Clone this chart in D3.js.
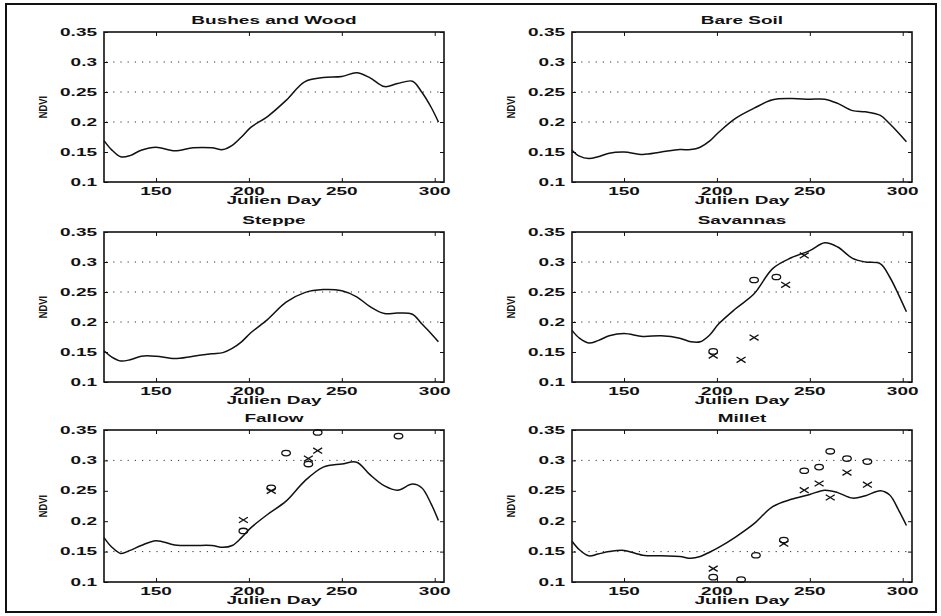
<!DOCTYPE html>
<html lang="en">
<head>
<meta charset="UTF-8">
<title>NDVI profiles</title>
<script src="https://cdn.jsdelivr.net/npm/d3@7"></script>
<style>
    body { margin: 0; background: #fff; }
    .frame { fill: none; stroke: #111; stroke-width: 2; }
    .box { fill: none; stroke: #111; stroke-width: 1.6; }
    .curve { fill: none; stroke: #111; stroke-width: 1.5; }
    .grid { stroke: #333; stroke-width: 1; stroke-dasharray: 1.2, 6; }
    .tick line { stroke: #111; }
    .lbl { font-family: "Liberation Sans", Arial, sans-serif; font-weight: bold; font-size: 10px; fill: #111; }
    .ylbl { font-size: 11px; }
    .mark { fill: none; stroke: #111; stroke-width: 1.3; }
</style>
</head>
<body>
<svg id="chart"></svg>
<script>
    var width = 941;
    var height = 616;

    // Julien day of every curve sample
    var days = [122, 126, 131, 136, 142, 150, 160, 170, 180, 186, 191, 196, 201,
                210, 220, 230, 240, 250, 258, 265, 273, 280, 288, 293, 298, 302];

    // NDVI curves
    var bushesNdvi = [0.169, 0.154, 0.142, 0.144, 0.153, 0.158, 0.152, 0.157, 0.157, 0.154, 0.161, 0.175, 0.191,
                      0.209, 0.236, 0.267, 0.274, 0.276, 0.282, 0.274, 0.259, 0.264, 0.268, 0.250, 0.225, 0.200];
    var bareSoilNdvi = [0.153, 0.143, 0.139, 0.142, 0.148, 0.150, 0.146, 0.150, 0.154, 0.154, 0.158, 0.168, 0.183,
                        0.206, 0.223, 0.237, 0.239, 0.238, 0.238, 0.231, 0.219, 0.217, 0.211, 0.197, 0.181, 0.167];
    var steppeNdvi = [0.152, 0.142, 0.135, 0.137, 0.143, 0.143, 0.139, 0.143, 0.147, 0.149, 0.156, 0.167, 0.182,
                      0.204, 0.233, 0.249, 0.254, 0.252, 0.242, 0.226, 0.214, 0.215, 0.213, 0.197, 0.181, 0.167];
    var savannaNdvi = [0.186, 0.173, 0.165, 0.169, 0.177, 0.181, 0.176, 0.177, 0.173, 0.167, 0.167, 0.178, 0.197,
                       0.222, 0.247, 0.289, 0.307, 0.319, 0.332, 0.325, 0.306, 0.300, 0.297, 0.275, 0.244, 0.217];
    var fallowNdvi = [0.173, 0.158, 0.147, 0.152, 0.160, 0.168, 0.161, 0.160, 0.160, 0.157, 0.160, 0.173, 0.189,
                      0.211, 0.233, 0.266, 0.289, 0.294, 0.297, 0.277, 0.258, 0.251, 0.261, 0.255, 0.229, 0.201];
    var milletNdvi = [0.167, 0.153, 0.143, 0.146, 0.150, 0.152, 0.144, 0.143, 0.142, 0.139, 0.142, 0.149, 0.157,
                      0.174, 0.196, 0.224, 0.236, 0.244, 0.251, 0.247, 0.238, 0.242, 0.250, 0.243, 0.217, 0.193];

    // field observations ("o" and "x" marks)
    var savannaODays = [198, 220, 232];
    var savannaOValues = [0.151, 0.270, 0.275];
    var savannaXDays = [198, 213, 220, 237, 247];
    var savannaXValues = [0.144, 0.137, 0.174, 0.262, 0.311];

    var fallowODays = [197, 212, 220, 232, 237, 280.5];
    var fallowOValues = [0.184, 0.255, 0.312, 0.294, 0.346, 0.340];
    var fallowXDays = [197, 212, 232, 237];
    var fallowXValues = [0.202, 0.250, 0.303, 0.316];

    var milletODays = [198, 213, 221, 236, 247, 255, 261, 270, 281];
    var milletOValues = [0.108, 0.104, 0.144, 0.169, 0.283, 0.289, 0.315, 0.303, 0.298];
    var milletXDays = [198, 236, 247, 255, 261, 270, 281];
    var milletXValues = [0.122, 0.163, 0.251, 0.262, 0.239, 0.280, 0.260];

    // axes
    var xTicks = [150, 200, 250, 300];
    var yTicks = [0.1, 0.15, 0.2, 0.25, 0.3, 0.35];
    var yTickLabels = ["0.1", "0.15", "0.2", "0.25", "0.3", "0.35"];
    var xLabel = "Julien Day";
    var yLabel = "NDVI";

    var panels = [
        {title: "Bushes and Wood", ndvi: bushesNdvi, grid: [0.2, 0.25, 0.3], col: 0, row: 0},
        {title: "Bare Soil", ndvi: bareSoilNdvi, grid: [0.2, 0.25, 0.3], col: 1, row: 0},
        {title: "Steppe", ndvi: steppeNdvi, grid: [0.2, 0.25, 0.3], col: 0, row: 1},
        {title: "Savannas", ndvi: savannaNdvi, grid: [0.2, 0.25, 0.3], col: 1, row: 1,
            oDays: savannaODays, oValues: savannaOValues, xDays: savannaXDays, xValues: savannaXValues},
        {title: "Fallow", ndvi: fallowNdvi, grid: [0.15, 0.3], col: 0, row: 2,
            oDays: fallowODays, oValues: fallowOValues, xDays: fallowXDays, xValues: fallowXValues},
        {title: "Millet", ndvi: milletNdvi, grid: [0.15, 0.3], col: 1, row: 2,
            oDays: milletODays, oValues: milletOValues, xDays: milletXDays, xValues: milletXValues}
    ];

    // panel boxes
    var colLeft = [104, 572];
    var plotW = 340;
    var rowTop = [32, 232, 430];
    var rowH = [150, 150, 152];

    var svg = d3.select("#chart")
        .attr("width", width)
        .attr("height", height);

    svg.append("rect")
        .attr("class", "frame")
        .attr("x", 6).attr("y", 4)
        .attr("width", 930).attr("height", 608);

    // scanned figure text is wide, so stretch it horizontally
    function label(g, x, y, str, anchor) {
        return g.append("text")
            .attr("class", "lbl")
            .attr("text-anchor", anchor)
            .attr("transform", "translate(" + x + "," + y + ") scale(1.9,1)")
            .text(str);
    }

    panels.forEach(function (p) {
        var h = rowH[p.row];
        var g = svg.append("g")
            .attr("transform", "translate(" + colLeft[p.col] + "," + rowTop[p.row] + ")");

        var x = d3.scaleLinear().domain([122, 305]).range([0, plotW]);
        var y = d3.scaleLinear().domain([0.1, 0.35]).range([h, 0]);

        // dotted reference levels
        g.selectAll(".grid")
            .data(p.grid)
            .enter()
            .append("line")
            .attr("class", "grid")
            .attr("x1", 2).attr("x2", plotW - 2)
            .attr("y1", function (d) { return y(d); })
            .attr("y2", function (d) { return y(d); });

        // inward ticks on all four sides
        var axes = [
            [d3.axisLeft(y).tickValues(yTicks), 0, 0],
            [d3.axisRight(y).tickValues(yTicks), plotW, 0],
            [d3.axisBottom(x).tickValues(xTicks), 0, h],
            [d3.axisTop(x).tickValues(xTicks), 0, 0]
        ];
        axes.forEach(function (a) {
            var ax = g.append("g")
                .attr("transform", "translate(" + a[1] + "," + a[2] + ")")
                .call(a[0].tickSize(-4).tickSizeOuter(0).tickFormat(""));
            ax.select(".domain").remove();
        });

        g.append("rect")
            .attr("class", "box")
            .attr("width", plotW)
            .attr("height", h);

        // curve
        var line = d3.line()
            .x(function (d, i) { return x(days[i]); })
            .y(function (d) { return y(d); })
            .curve(d3.curveCatmullRom.alpha(0.5));

        g.append("path")
            .datum(p.ndvi)
            .attr("class", "curve")
            .attr("d", line);

        // observations
        if (p.oDays) {
            g.selectAll(".obsO")
                .data(p.oDays)
                .enter()
                .append("ellipse")
                .attr("class", "mark")
                .attr("cx", function (d) { return x(d); })
                .attr("cy", function (d, i) { return y(p.oValues[i]); })
                .attr("rx", 4.3)
                .attr("ry", 2.7);

            g.selectAll(".obsX")
                .data(p.xDays)
                .enter()
                .append("path")
                .attr("class", "mark")
                .attr("transform", function (d, i) {
                    return "translate(" + x(d) + "," + y(p.xValues[i]) + ")";
                })
                .attr("d", "M-4.5,-2.8L4.5,2.8M-4.5,2.8L4.5,-2.8");
        }

        // texts
        label(g, plotW / 2, -8, p.title, "middle");
        label(g, plotW / 2, h + 22, xLabel, "middle");

        xTicks.forEach(function (t) {
            label(g, x(t), h + 12.5, String(t), "middle");
        });
        yTicks.forEach(function (t, i) {
            label(g, -7, y(t) + 3.6, yTickLabels[i], "end");
        });

        g.append("text")
            .attr("class", "lbl ylbl")
            .attr("text-anchor", "middle")
            .attr("transform", "translate(-57," + (h / 2) + ") rotate(-90) scale(0.85,1.05)")
            .text(yLabel);
    });
</script>
</body>
</html>
